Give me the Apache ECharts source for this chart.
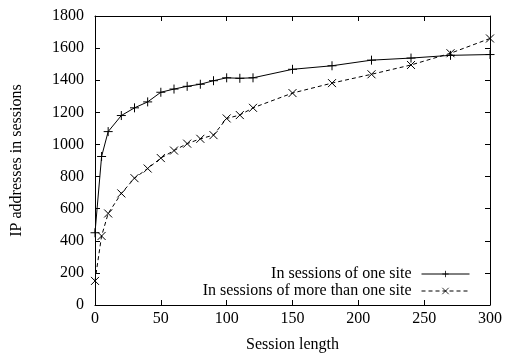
<!DOCTYPE html>
<html>
<head>
<meta charset="utf-8">
<script src="https://cdn.jsdelivr.net/npm/echarts@6/dist/echarts.min.js"></script>
<style>
  html, body { margin: 0; padding: 0; background: #fff; }
  #chart { width: 508px; height: 355px; }
</style>
</head>
<body>
<div id="chart"></div>
<script>
// session length (x) values
const sessionLength = [0, 5, 10, 20, 30, 40, 50, 60, 70, 80, 90, 100, 110, 120, 150, 180, 210, 240, 270, 300];
// IP addresses in sessions of one site
const oneSite = [450, 925, 1080, 1180, 1228, 1265, 1325, 1345, 1362, 1375, 1397, 1415, 1412, 1415, 1468, 1490, 1525, 1538, 1555, 1560];
// IP addresses in sessions of more than one site
const multiSite = [150, 430, 570, 695, 790, 850, 915, 962, 1005, 1035, 1058, 1162, 1183, 1228, 1320, 1382, 1437, 1495, 1568, 1660];

const seriesNames = ["In sessions of one site", "In sessions of more than one site"];

const font = "Liberation Serif";
const fontSize = 16;
const plusPath = "path://M0,5L10,5M5,0L5,10";
const crossPath = "path://M0,0L10,10M10,0L0,10";

const chart = echarts.init(document.getElementById("chart"));

const axisCommon = {
  axisLine: { show: true, onZero: false, lineStyle: { color: "#000", width: 1 } },
  axisTick: { show: true, inside: true, length: 5, lineStyle: { color: "#000" } },
  splitLine: { show: false },
};
const labelStyle = { fontFamily: font, fontSize: fontSize, color: "#000", formatter: (v) => String(v) };

const option = {
  animation: false,
  backgroundColor: "#fff",
  textStyle: { fontFamily: font },
  grid: { left: 95, right: 18, top: 16, bottom: 50, outerBoundsMode: "none", containLabel: false },
  legend: {
    orient: "vertical",
    right: 33,
    bottom: 51,
    align: "right",
    itemWidth: 48,
    itemHeight: 8,
    itemGap: 1,
    lineStyle: { width: 1 },
    itemStyle: { borderWidth: 0.8 },
    textStyle: { fontFamily: font, fontSize: fontSize, color: "#000", padding: [0, 5, 0, 0] },
    data: seriesNames,
  },
  xAxis: [
    {
      type: "value", min: 0, max: 300, interval: 50, position: "bottom",
      name: "Session length", nameLocation: "middle", nameGap: 32,
      nameTextStyle: { fontFamily: font, fontSize: fontSize, color: "#000" },
      axisLabel: { ...labelStyle, margin: 6 },
      ...axisCommon,
    },
    {
      type: "value", min: 0, max: 300, interval: 50, position: "top",
      axisLabel: { show: false },
      ...axisCommon,
    },
  ],
  yAxis: [
    {
      type: "value", min: 0, max: 1800, interval: 200, position: "left",
      name: "IP addresses in sessions", nameLocation: "middle", nameGap: 70,
      nameTextStyle: { fontFamily: font, fontSize: fontSize, color: "#000" },
      axisLabel: { ...labelStyle, margin: 11 },
      ...axisCommon,
    },
    {
      type: "value", min: 0, max: 1800, interval: 200, position: "right",
      axisLabel: { show: false },
      ...axisCommon,
    },
  ],
  series: [
    {
      name: seriesNames[0],
      type: "line",
      data: sessionLength.map((x, i) => [x, oneSite[i]]),
      symbol: plusPath,
      symbolSize: 9,
      showAllSymbol: true,
      lineStyle: { color: "#000", width: 1 },
      itemStyle: { color: "#000", borderColor: "#000", borderWidth: 1 },
    },
    {
      name: seriesNames[1],
      type: "line",
      data: sessionLength.map((x, i) => [x, multiSite[i]]),
      symbol: crossPath,
      symbolSize: 8,
      showAllSymbol: true,
      lineStyle: { color: "#000", width: 1, type: [4, 3] },
      itemStyle: { color: "#000", borderColor: "#000", borderWidth: 1 },
    },
  ],
};

chart.setOption(option);
</script>
</body>
</html>
